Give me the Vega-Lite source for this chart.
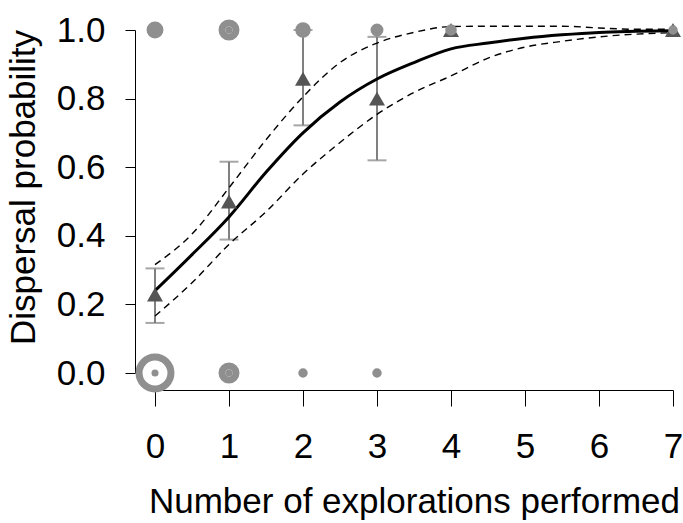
{
  "$schema": "https://vega.github.io/schema/vega-lite/v6.json",
  "width": 518,
  "height": 343,
  "autosize": {"type": "none"},
  "padding": {"left": 155, "top": 30, "right": 10, "bottom": 150},
  "background": "white",
  "config": {
    "view": {"stroke": null},
    "font": "Liberation Sans",
    "axis": {"grid": false, "labelFlush": false, "domainColor": "black", "tickColor": "black", "labelColor": "black", "titleColor": "black", "labelFont": "Liberation Sans", "titleFont": "Liberation Sans", "labelFontSize": 35, "titleFontSize": 35, "titleFontWeight": "normal", "domainWidth": 1, "tickWidth": 1}
  },
  "datasets": {
    "obs": [
      {"x": 0, "y": 1, "n": 7}, {"x": 0, "y": 0, "n": 23},
      {"x": 1, "y": 1, "n": 10}, {"x": 1, "y": 0, "n": 10},
      {"x": 2, "y": 1, "n": 6}, {"x": 2, "y": 0, "n": 1},
      {"x": 3, "y": 1, "n": 4}, {"x": 3, "y": 0, "n": 1},
      {"x": 4, "y": 1, "n": 3}, {"x": 7, "y": 1, "n": 1}
    ],
    "means": [
      {"x": 0, "p": 0.229, "lo": 0.146, "hi": 0.305},
      {"x": 1, "p": 0.5, "lo": 0.389, "hi": 0.616},
      {"x": 2, "p": 0.858, "lo": 0.722, "hi": 1.0},
      {"x": 3, "p": 0.8, "lo": 0.62, "hi": 0.98},
      {"x": 4, "p": 1.0, "lo": null, "hi": null},
      {"x": 7, "p": 1.0, "lo": null, "hi": null}
    ],
    "fit": [
      {"x": 0, "fit": 0.24, "lwr": 0.166, "upr": 0.316},
      {"x": 0.5, "fit": 0.345, "lwr": 0.263, "upr": 0.405},
      {"x": 1, "fit": 0.455, "lwr": 0.375, "upr": 0.54},
      {"x": 1.5, "fit": 0.585, "lwr": 0.47, "upr": 0.68},
      {"x": 2, "fit": 0.7, "lwr": 0.58, "upr": 0.805},
      {"x": 2.5, "fit": 0.79, "lwr": 0.672, "upr": 0.905},
      {"x": 3, "fit": 0.857, "lwr": 0.754, "upr": 0.962},
      {"x": 3.5, "fit": 0.905, "lwr": 0.818, "upr": 0.993},
      {"x": 4, "fit": 0.945, "lwr": 0.866, "upr": 1.01},
      {"x": 4.5, "fit": 0.962, "lwr": 0.918, "upr": 1.011},
      {"x": 5, "fit": 0.976, "lwr": 0.95, "upr": 1.011},
      {"x": 5.5, "fit": 0.986, "lwr": 0.967, "upr": 1.011},
      {"x": 6, "fit": 0.993, "lwr": 0.98, "upr": 1.006},
      {"x": 6.5, "fit": 0.996, "lwr": 0.988, "upr": 1.002},
      {"x": 7, "fit": 0.998, "lwr": 0.992, "upr": 1.002}
    ]
  },
  "layer": [
    {
      "data": {"name": "means"},
      "transform": [{"filter": "datum.lo != null"}],
      "mark": {"type": "rule", "color": "#808080", "strokeWidth": 2},
      "encoding": {
        "x": {"field": "x", "type": "quantitative", "scale": {"domain": [0, 7], "nice": false, "zero": false},
          "axis": {"values": [0, 1, 2, 3, 4, 5, 6, 7], "format": "d", "offset": 17, "tickSize": 16, "labelPadding": 23, "title": "Number of explorations performed", "titlePadding": 20}},
        "y": {"field": "lo", "type": "quantitative", "scale": {"domain": [0, 1], "nice": false},
          "axis": {"values": [0, 0.2, 0.4, 0.6, 0.8, 1.0], "format": ".1f", "offset": 20, "tickSize": 10, "labelPadding": 20, "title": "Dispersal probability", "titlePadding": 15, "titleY": 157}},
        "y2": {"field": "hi"}
      }
    },
    {
      "data": {"name": "means"},
      "transform": [{"filter": "datum.lo != null"}],
      "mark": {"type": "tick", "orient": "horizontal", "color": "#808080", "size": 19, "thickness": 2},
      "encoding": {
        "x": {"field": "x", "type": "quantitative"},
        "y": {"field": "lo", "type": "quantitative"}
      }
    },
    {
      "data": {"name": "means"},
      "transform": [{"filter": "datum.lo != null"}],
      "mark": {"type": "tick", "orient": "horizontal", "color": "#808080", "size": 19, "thickness": 2},
      "encoding": {
        "x": {"field": "x", "type": "quantitative"},
        "y": {"field": "hi", "type": "quantitative"}
      }
    },
    {
      "data": {"name": "fit"},
      "mark": {"type": "line", "color": "black", "strokeWidth": 1.4, "strokeDash": [7, 5], "interpolate": "monotone"},
      "encoding": {
        "x": {"field": "x", "type": "quantitative"},
        "y": {"field": "upr", "type": "quantitative"}
      }
    },
    {
      "data": {"name": "fit"},
      "mark": {"type": "line", "color": "black", "strokeWidth": 1.4, "strokeDash": [7, 5], "interpolate": "monotone"},
      "encoding": {
        "x": {"field": "x", "type": "quantitative"},
        "y": {"field": "lwr", "type": "quantitative"}
      }
    },
    {
      "data": {"name": "fit"},
      "mark": {"type": "line", "color": "black", "strokeWidth": 3, "interpolate": "monotone"},
      "encoding": {
        "x": {"field": "x", "type": "quantitative"},
        "y": {"field": "fit", "type": "quantitative"}
      }
    },
    {
      "data": {"name": "means"},
      "mark": {"type": "point", "shape": "triangle-up", "filled": true, "color": "#555555", "opacity": 1, "size": 256},
      "encoding": {
        "x": {"field": "x", "type": "quantitative"},
        "y": {"field": "p", "type": "quantitative"}
      }
    },
    {
      "data": {"name": "obs"},
      "mark": {"type": "point", "shape": "circle", "filled": false, "color": "#8f8f8f", "strokeWidth": 7, "opacity": 1},
      "encoding": {
        "x": {"field": "x", "type": "quantitative"},
        "y": {"field": "y", "type": "quantitative"},
        "size": {"field": "n", "type": "quantitative", "scale": {"type": "pow", "exponent": 2, "domain": [1, 23], "range": [6, 1018]}, "legend": null}
      }
    },
    {
      "data": {"name": "obs"},
      "mark": {"type": "circle", "color": "#8f8f8f", "size": 50, "opacity": 1},
      "encoding": {
        "x": {"field": "x", "type": "quantitative"},
        "y": {"field": "y", "type": "quantitative"}
      }
    }
  ]
}
